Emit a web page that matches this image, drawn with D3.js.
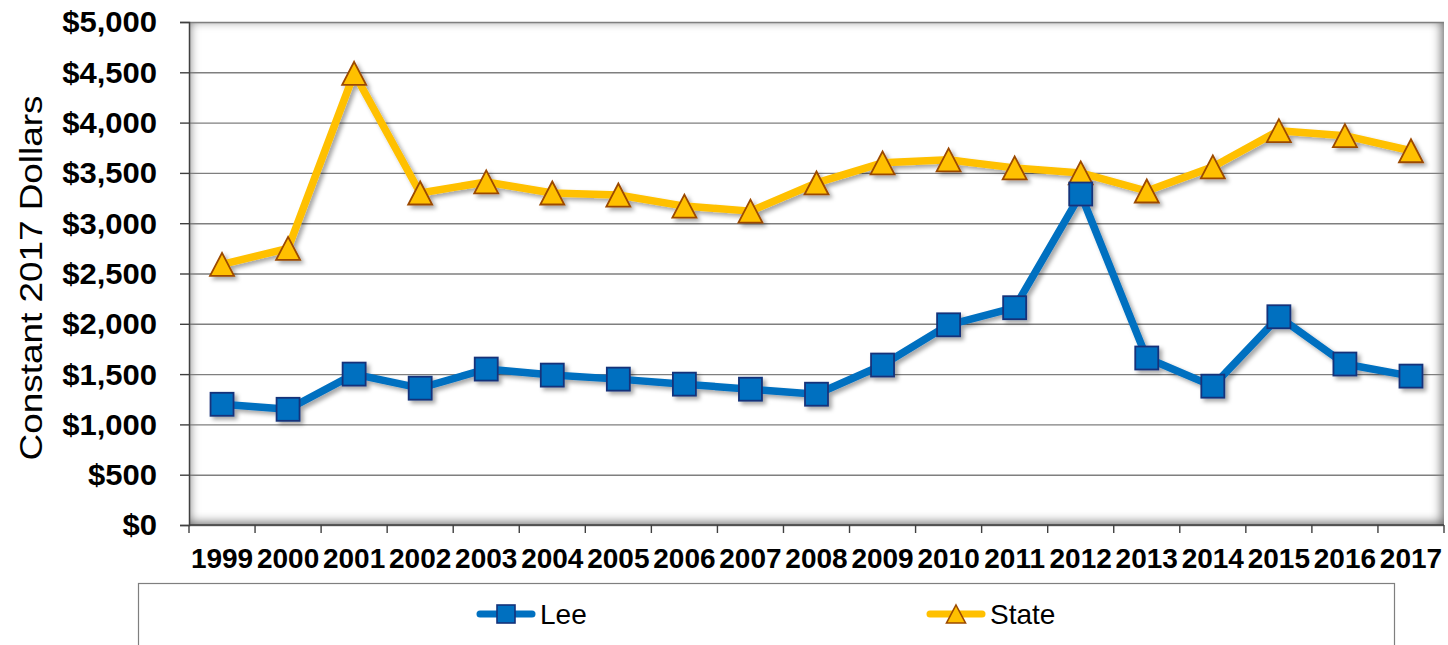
<!DOCTYPE html>
<html>
<head>
<meta charset="utf-8">
<script src="https://cdn.jsdelivr.net/npm/d3@7"></script>
<style>
  html, body { margin: 0; padding: 0; background: #ffffff; }
  svg { display: block; font-family: "Liberation Sans", Arial, sans-serif; }
</style>
</head>
<body>
<svg id="chart" width="1448" height="645"></svg>
<script>
// ---- Data ----
const years = ["1999","2000","2001","2002","2003","2004","2005","2006","2007","2008","2009","2010","2011","2012","2013","2014","2015","2016","2017"];
const leeValues = [1200,1150,1500,1360,1550,1490,1450,1400,1350,1300,1590,1990,2160,3290,1660,1380,2070,1600,1480];
const stateValues = [2590,2750,4490,3300,3410,3300,3280,3170,3120,3400,3600,3630,3550,3500,3320,3560,3920,3870,3720];
const yTicks = [0,500,1000,1500,2000,2500,3000,3500,4000,4500,5000];
const seriesNames = ["Lee","State"];
const yTitle = "Constant 2017 Dollars";

// ---- Layout ----
const plot = { left: 189, right: 1444, top: 22, bottom: 525 };
const leeColor = "#0070C0", leeStroke = "#14337A";
const stateColor = "#FFC000", stateStroke = "#9C4A00";

const svg = d3.select("#chart");
const defs = svg.append("defs");

const ds = defs.append("filter").attr("id","shadow").attr("x","-20%").attr("y","-20%").attr("width","140%").attr("height","140%");
ds.append("feDropShadow").attr("dx",3).attr("dy",3).attr("stdDeviation",2.2).attr("flood-color","#000").attr("flood-opacity",0.35);

const blur = defs.append("filter").attr("id","blur").attr("x","-10%").attr("y","-10%").attr("width","120%").attr("height","120%");
blur.append("feGaussianBlur").attr("stdDeviation",5.5);
defs.append("clipPath").attr("id","plotClip").append("rect")
  .attr("x",plot.left).attr("y",plot.top)
  .attr("width",plot.right-plot.left).attr("height",plot.bottom-plot.top);

const x = d3.scaleBand().domain(years).range([plot.left, plot.right]).padding(0);
const y = d3.scaleLinear().domain([0,5000]).range([plot.bottom, plot.top]);
const cx = d => x(d) + x.bandwidth()/2;

svg.append("rect").attr("x",plot.left).attr("y",plot.top)
  .attr("width",plot.right-plot.left).attr("height",plot.bottom-plot.top).attr("fill","#ffffff");

// inset shadow
svg.append("g").attr("clip-path","url(#plotClip)")
  .append("rect")
  .attr("x",plot.left-20).attr("y",plot.top-22)
  .attr("width",plot.right-plot.left+38).attr("height",plot.bottom-plot.top+40)
  .attr("fill","none").attr("stroke","#000").attr("stroke-width",40)
  .attr("stroke-opacity",0.62).attr("filter","url(#blur)");

// gridlines
const yAxis = d3.axisLeft(y).tickValues(yTicks).tickSize(-(plot.right-plot.left)).tickFormat("");
const gGrid = svg.append("g").attr("transform",`translate(${plot.left},0)`).call(yAxis);
gGrid.select(".domain").remove();
gGrid.selectAll(".tick line").attr("stroke","#7f7f7f").attr("stroke-width",1.4);

// y tick marks
const yTickAxis = d3.axisLeft(y).tickValues(yTicks).tickSize(9).tickFormat("");
const gYT = svg.append("g").attr("transform",`translate(${plot.left},0)`).call(yTickAxis);
gYT.select(".domain").attr("stroke","#404040").attr("stroke-width",1.5);
gYT.selectAll(".tick line").attr("stroke","#404040").attr("stroke-width",1.4);

// y labels
const fmt = d => "$" + d3.format(",")(d);
svg.append("g").selectAll("text").data(yTicks).join("text")
  .attr("transform", d => `translate(157,${y(d)}) scale(1.07,1)`)
  .attr("text-anchor","end").attr("dy","0.36em")
  .attr("font-size",29).attr("font-weight","bold").attr("fill","#000")
  .text(fmt);

// x axis
const xBoundaries = years.map(d => x(d)).concat([plot.right]);
const gX = svg.append("g");
gX.append("line").attr("x1",plot.left).attr("x2",plot.right).attr("y1",plot.bottom).attr("y2",plot.bottom)
  .attr("stroke","#404040").attr("stroke-width",1.5);
gX.selectAll("line.tk").data(xBoundaries).join("line").attr("class","tk")
  .attr("x1",d=>d).attr("x2",d=>d).attr("y1",plot.bottom).attr("y2",plot.bottom+8)
  .attr("stroke","#404040").attr("stroke-width",1.4);
gX.selectAll("text").data(years).join("text")
  .attr("x",cx).attr("y",568).attr("text-anchor","middle")
  .attr("font-size",28).attr("font-weight","bold").attr("fill","#000")
  .text(d=>d);

// y title
svg.append("text")
  .attr("transform","translate(42,278) rotate(-90) scale(1.19,1)")
  .attr("text-anchor","middle").attr("font-size",31).attr("fill","#000")
  .text(yTitle);

// series
const line = d3.line().x((d,i)=>cx(years[i])).y(d=>y(d));
const gS = svg.append("g").attr("filter","url(#shadow)");

function drawSeries(vals, color) {
  gS.append("path").datum(vals).attr("d",line)
    .attr("fill","none").attr("stroke",color).attr("stroke-width",7.5).attr("stroke-linejoin","round");
}
drawSeries(stateValues, stateColor);
drawSeries(leeValues, leeColor);

const sq = 23;
function triPath(w, h) {
  return `M0,${-h/2} L${w/2},${h/2} L${-w/2},${h/2} Z`;
}
gS.append("g").selectAll("path").data(stateValues).join("path")
  .attr("transform",(d,i)=>`translate(${cx(years[i])},${y(d)})`)
  .attr("d",triPath(24,23))
  .attr("fill",stateColor).attr("stroke",stateStroke).attr("stroke-width",1.8);
gS.append("g").selectAll("rect").data(leeValues).join("rect")
  .attr("x",(d,i)=>cx(years[i])-sq/2).attr("y",d=>y(d)-sq/2)
  .attr("width",sq).attr("height",sq)
  .attr("fill",leeColor).attr("stroke",leeStroke).attr("stroke-width",1.8);

// legend
const lg = svg.append("g");
lg.append("rect").attr("x",138.5).attr("y",583.5).attr("width",1256).attr("height",80)
  .attr("fill","#fff").attr("stroke","#7f7f7f").attr("stroke-width",1.2);
const legendItems = [
  { name: seriesNames[0], color: leeColor, stroke: leeStroke, kind: "sq", x0: 477 },
  { name: seriesNames[1], color: stateColor, stroke: stateStroke, kind: "tri", x0: 927 }
];
legendItems.forEach(it => {
  const ly = 614;
  lg.append("line").attr("x1",it.x0+3).attr("x2",it.x0+55).attr("y1",ly).attr("y2",ly)
    .attr("stroke",it.color).attr("stroke-width",7).attr("stroke-linecap","round");
  if (it.kind === "sq") {
    lg.append("rect").attr("x",it.x0+29-9).attr("y",ly-9).attr("width",18).attr("height",18)
      .attr("fill",it.color).attr("stroke",it.stroke).attr("stroke-width",1.6);
  } else {
    lg.append("path").attr("transform",`translate(${it.x0+29},${ly})`).attr("d",triPath(19,18))
      .attr("fill",it.color).attr("stroke",it.stroke).attr("stroke-width",1.6);
  }
  lg.append("text").attr("x",it.x0+63).attr("y",ly+10).attr("font-size",28).attr("fill","#000").text(it.name);
});
</script>
</body>
</html>
